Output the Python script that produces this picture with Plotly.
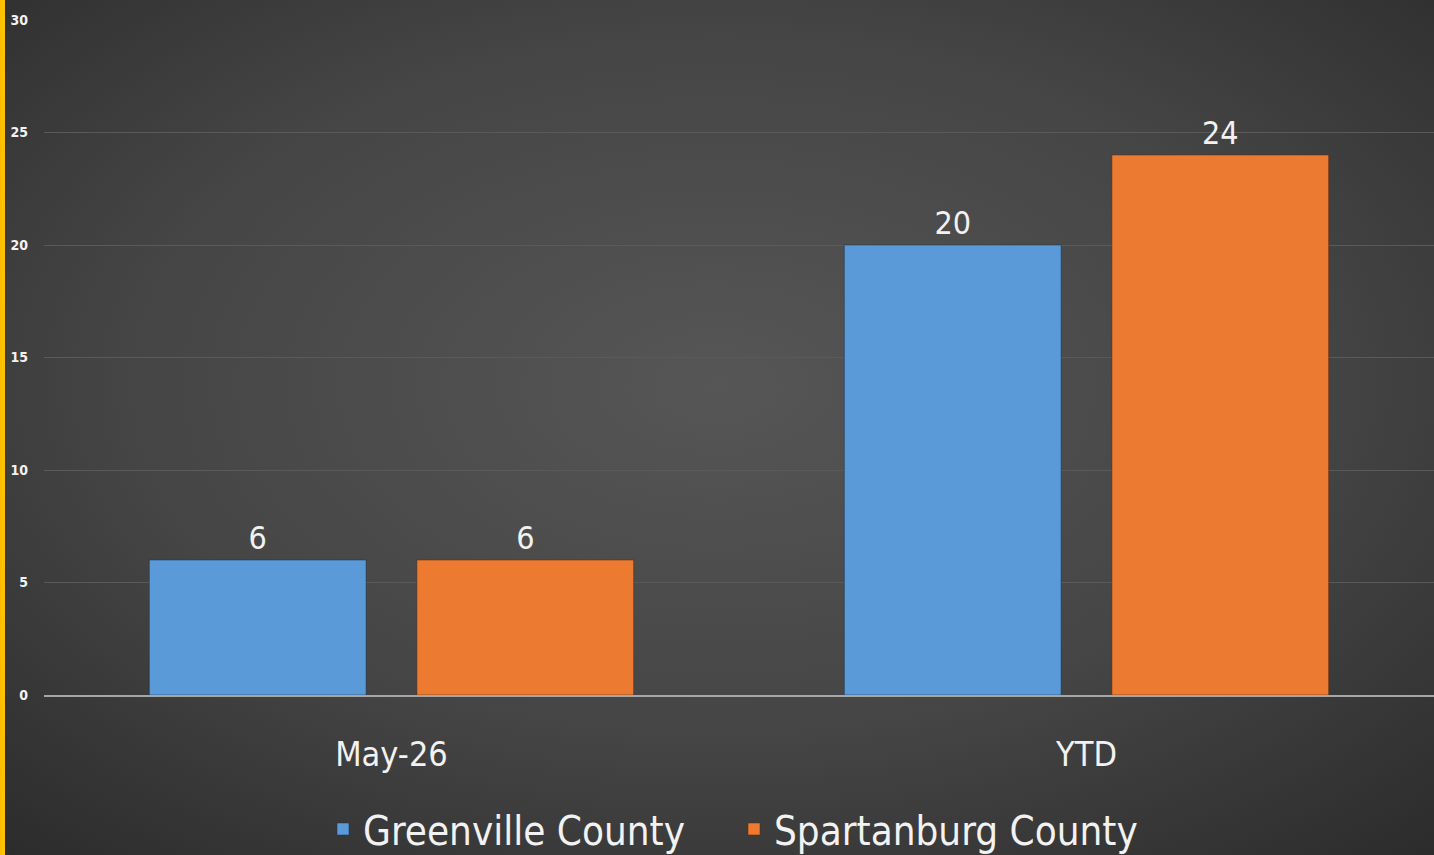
import base64
import plotly.graph_objects as go

categories = ["May-26", "YTD"]
greenville = [6, 20]
spartanburg = [6, 24]
series_names = ["Greenville County", "Spartanburg County"]
y_ticks = [0, 5, 10, 15, 20, 25, 30]

W, H = 1434, 855
ML, MR, MT, MB = 44, 0, 20, 160
FONT = "DejaVu Sans Condensed, Liberation Sans Narrow, Arial Narrow, sans-serif"

svg = f'''<svg xmlns="http://www.w3.org/2000/svg" width="{W}" height="{H}" viewBox="0 0 {W} {H}" preserveAspectRatio="none">
<defs><radialGradient id="g" cx="0.5" cy="0.45" r="0.75">
<stop offset="0" stop-color="#565656"/><stop offset="0.55" stop-color="#454545"/><stop offset="1" stop-color="#2b2b2b"/>
</radialGradient></defs>
<rect x="0" y="0" width="{W}" height="{H}" fill="url(#g)"/>
<rect x="0" y="0" width="5" height="{H}" fill="#FFC000"/>
</svg>'''
src = "data:image/svg+xml;base64," + base64.b64encode(svg.encode()).decode()

pw = W - ML - MR
ph = H - MT - MB

fig = go.Figure()
fig.add_trace(go.Bar(
    x=categories, y=greenville, name=series_names[0],
    marker=dict(color="#5a9ad9", line=dict(color="rgba(30,50,80,0.5)", width=1)),
    text=greenville, textposition="outside",
    textfont=dict(color="#f2f2f2", size=32, family=FONT), cliponaxis=False,
))
fig.add_trace(go.Bar(
    x=categories, y=spartanburg, name=series_names[1],
    marker=dict(color="#ec7a30", line=dict(color="rgba(90,40,10,0.5)", width=1)),
    text=spartanburg, textposition="outside",
    textfont=dict(color="#f2f2f2", size=32, family=FONT), cliponaxis=False,
))

fig.update_layout(
    width=W, height=H, autosize=False,
    margin=dict(l=ML, r=MR, t=MT, b=MB, pad=0, autoexpand=False),
    paper_bgcolor="#3a3a3a", plot_bgcolor="rgba(0,0,0,0)",
    barmode="group", bargap=0.23, bargroupgap=0.19,
    font=dict(family=FONT, color="#f2f2f2"),
    showlegend=True,
    legend=dict(orientation="h", xref="container", yref="container",
                x=323 / W, xanchor="left", y=(H - 829) / H, yanchor="middle",
                entrywidth=366, entrywidthmode="pixels",
                font=dict(size=40, color="#f2f2f2", family=FONT),
                bgcolor="rgba(0,0,0,0)", traceorder="normal"),
    images=[dict(source=src, xref="paper", yref="paper",
                 x=-ML / pw, y=1 + MT / ph, sizex=W / pw, sizey=H / ph,
                 xanchor="left", yanchor="top", sizing="stretch", layer="below")],
)
fig.update_yaxes(range=[0, 30], tickvals=y_ticks, ticktext=[str(v) for v in y_ticks],
                 showgrid=True, gridcolor="#5a5a5a", gridwidth=1, automargin=False,
                 zeroline=False, showline=False,
                 tickfont=dict(size=14, color="#f2f2f2", family=FONT, weight="bold"),
                 ticks="", ticklabelstandoff=15)
fig.update_xaxes(showgrid=False, showline=True, linecolor="#a6a6a6", linewidth=2,
                 automargin=False,
                 tickfont=dict(size=34, color="#f2f2f2", family=FONT),
                 ticks="", ticklabelstandoff=28)

fig.write_html(
    "out.html",
    config={"displayModeBar": False, "responsive": False},
    post_script="document.body.style.margin='0';document.body.style.overflow='hidden';document.body.style.background='#2b2b2b';",
)
